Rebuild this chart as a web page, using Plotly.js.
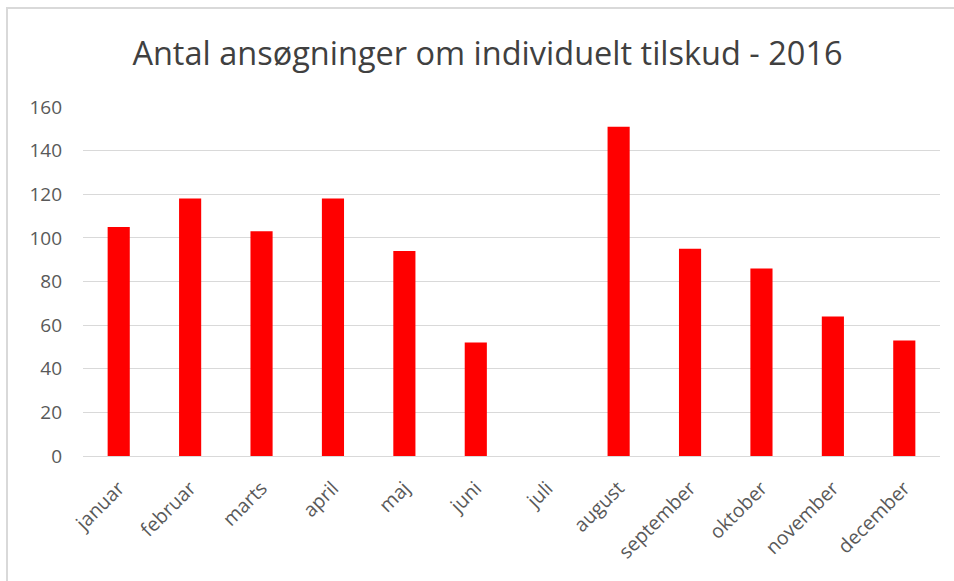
<!DOCTYPE html>
<html>
<head>
<meta charset="utf-8">
<script src="https://cdn.plot.ly/plotly-3.0.1.min.js"></script>
<style>
html,body{margin:0;padding:0;background:#fff;}
#frame{position:absolute;left:6px;top:7px;width:948px;height:574px;border-top:2px solid #d9d9d9;border-left:2px solid #d9d9d9;box-sizing:border-box;pointer-events:none;z-index:5;}
#chart{position:absolute;left:0;top:0;width:954px;height:581px;}
</style>
</head>
<body>
<div id="chart"></div>
<div id="frame"></div>
<script>
const months = ["januar","februar","marts","april","maj","juni","juli","august","september","oktober","november","december"];
const applications = [105, 118, 103, 118, 94, 52, 0, 151, 95, 86, 64, 53];
const yTicks = [0, 20, 40, 60, 80, 100, 120, 140, 160];

const trace = {
  type: "bar",
  x: months,
  y: applications,
  marker: {color: "#ff0000"},
  width: 0.31,
  hoverinfo: "x+y"
};

const layout = {
  width: 954,
  height: 581,
  margin: {l: 83, r: 14, t: 107, b: 125},
  paper_bgcolor: "#ffffff",
  plot_bgcolor: "#ffffff",
  showlegend: false,
  title: {
    text: "Antal ansøgninger om individuelt tilskud - 2016",
    font: {family: "Open Sans, Noto Sans, sans-serif", size: 32.5, color: "#404040"},
    x: 0.511, xanchor: "center",
    y: 0.907, yanchor: "middle"
  },
  xaxis: {
    type: "category",
    tickangle: -45,
    tickfont: {family: "Open Sans, Noto Sans, sans-serif", size: 19.5, color: "#595959"},
    showgrid: false,
    showline: false,
    ticks: "",
    ticklabelstandoff: 16,
    zeroline: false
  },
  yaxis: {
    range: [0, 160],
    tickvals: yTicks,
    ticktext: yTicks.map(String),
    tickfont: {family: "Open Sans, Noto Sans, sans-serif", size: 19, color: "#595959"},
    showgrid: true,
    gridcolor: "#d9d9d9",
    gridwidth: 1,
    zeroline: true,
    zerolinecolor: "#d9d9d9",
    zerolinewidth: 1,
    showline: false,
    ticks: "",
    ticklabelstandoff: 20
  }
};

Plotly.newPlot("chart", [trace], layout, {displayModeBar: false, staticPlot: true});
</script>
</body>
</html>
